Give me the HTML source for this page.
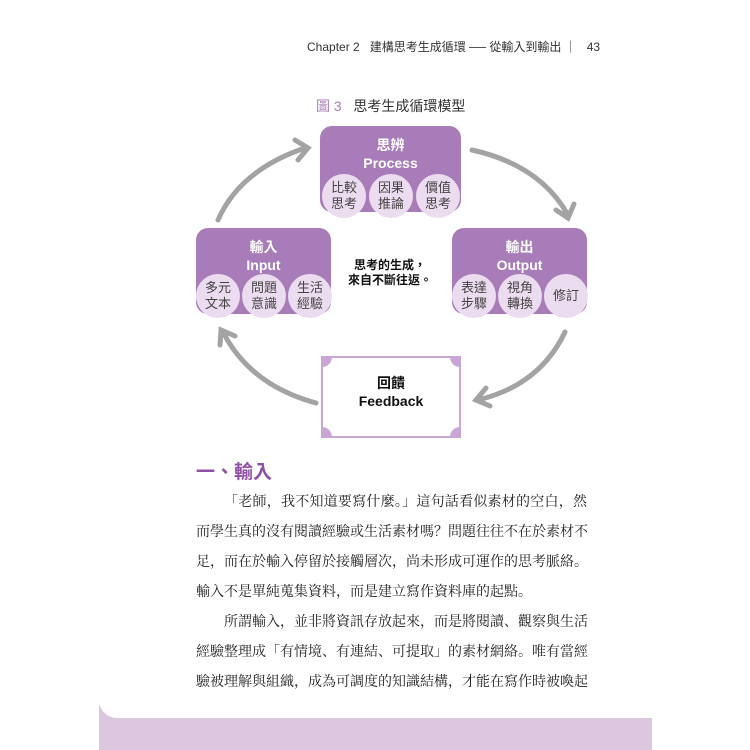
<!DOCTYPE html>
<html><head><meta charset="utf-8"><style>
body{margin:0;width:750px;height:750px;background:#fff;position:relative;overflow:hidden;font-family:"Liberation Sans","Noto Sans CJK TC",sans-serif}
.a{position:absolute}
.box{position:absolute;background:#a77cb8;border-radius:12px;color:#fff;text-align:center;font-weight:bold;font-size:14px;line-height:18px}
.c{position:absolute;width:44px;height:44px;border-radius:50%;background:#ecdcf0;color:#444;font-size:13px;line-height:16px;text-align:center;display:flex;align-items:center;justify-content:center}
.p{position:absolute;left:196px;width:391px;font-family:"Liberation Serif","Noto Serif CJK SC",serif;font-size:14px;color:#222;white-space:nowrap;text-align:justify;text-align-last:justify;height:30px;line-height:30px}
</style></head><body>
<div class="a" style="left:307px;top:38px;font-size:12px;color:#333;white-space:nowrap">Chapter 2&nbsp;&nbsp; 建構思考生成循環 ── 從輸入到輸出 ｜&nbsp;&nbsp; 43</div>
<div class="a" style="left:316px;top:96px;font-size:14px;color:#333;white-space:nowrap"><span style="color:#a77cb8">圖 3</span>&nbsp;&nbsp; 思考生成循環模型</div>

<svg class="a" style="left:0;top:0" width="750" height="750">
<g fill="none" stroke="#a3a3a3" stroke-width="5" stroke-linecap="round">
<path d="M218 220 Q240 170 305 148"/><path d="M295 140 L308 148 L298 160"/>
<path d="M472 150 Q540 165 568 215"/><path d="M556 210 L568 218 L574 204"/>
<path d="M565 332 Q540 385 478 400"/><path d="M486 388 L476 400 L490 406"/>
<path d="M316 403 Q250 385 223 332"/><path d="M220 345 L221 330 L235 336"/>
</g>
<rect x="322" y="357" width="138" height="80" fill="#fff" stroke="#c9a6d6" stroke-width="2"/>
<path d="M322 357 h10 a10 10 0 0 1 -10 10z M460 357 h-10 a10 10 0 0 0 10 10z M322 437 h10 a10 10 0 0 0 -10 -10z M460 437 h-10 a10 10 0 0 1 10 -10z" fill="#c9a6d6"/>
</svg>

<div class="box" style="left:320px;top:126px;width:141px;height:86px"><div style="margin-top:10px">思辨<br>Process</div></div>
<div class="c" style="left:322px;top:174px">比較<br>思考</div>
<div class="c" style="left:369px;top:174px">因果<br>推論</div>
<div class="c" style="left:416px;top:174px">價值<br>思考</div>

<div class="box" style="left:196px;top:228px;width:135px;height:86px"><div style="margin-top:10px">輸入<br>Input</div></div>
<div class="c" style="left:196px;top:274px">多元<br>文本</div>
<div class="c" style="left:242px;top:274px">問題<br>意識</div>
<div class="c" style="left:288px;top:274px">生活<br>經驗</div>

<div class="box" style="left:452px;top:228px;width:135px;height:86px"><div style="margin-top:10px">輸出<br>Output</div></div>
<div class="c" style="left:452px;top:274px">表達<br>步驟</div>
<div class="c" style="left:498px;top:274px">視角<br>轉換</div>
<div class="c" style="left:544px;top:274px">修訂</div>

<div class="a" style="left:340px;top:258px;width:100px;text-align:center;font-size:12px;font-weight:bold;line-height:15px;color:#111">思考的生成，<br>來自不斷往返。</div>
<div class="a" style="left:322px;top:374px;width:138px;text-align:center;font-size:14px;font-weight:bold;line-height:18px;color:#111">回饋<br>Feedback</div>

<div class="a" style="left:196px;top:457px;font-size:19px;font-weight:bold;color:#9050a8">一、輸入</div>
<div class="p" style="top:488px;left:224px;width:363px">「老師，我不知道要寫什麼。」這句話看似素材的空白，然</div>
<div class="p" style="top:518px">而學生真的沒有閱讀經驗或生活素材嗎？問題往往不在於素材不</div>
<div class="p" style="top:548px">足，而在於輸入停留於接觸層次，尚未形成可運作的思考脈絡。</div>
<div class="p" style="top:578px;text-align-last:left">輸入不是單純蒐集資料，而是建立寫作資料庫的起點。</div>
<div class="p" style="top:608px;left:224px;width:363px">所謂輸入，並非將資訊存放起來，而是將閱讀、觀察與生活</div>
<div class="p" style="top:638px">經驗整理成「有情境、有連結、可提取」的素材網絡。唯有當經</div>
<div class="p" style="top:668px">驗被理解與組織，成為可調度的知識結構，才能在寫作時被喚起</div>

<div class="a" style="left:99px;top:705px;width:553px;height:45px;background:#dcc6e0"></div>
<div class="a" style="left:99px;top:700px;width:553px;height:18px;background:#fff;border-bottom-left-radius:18px"></div>
</body></html>
